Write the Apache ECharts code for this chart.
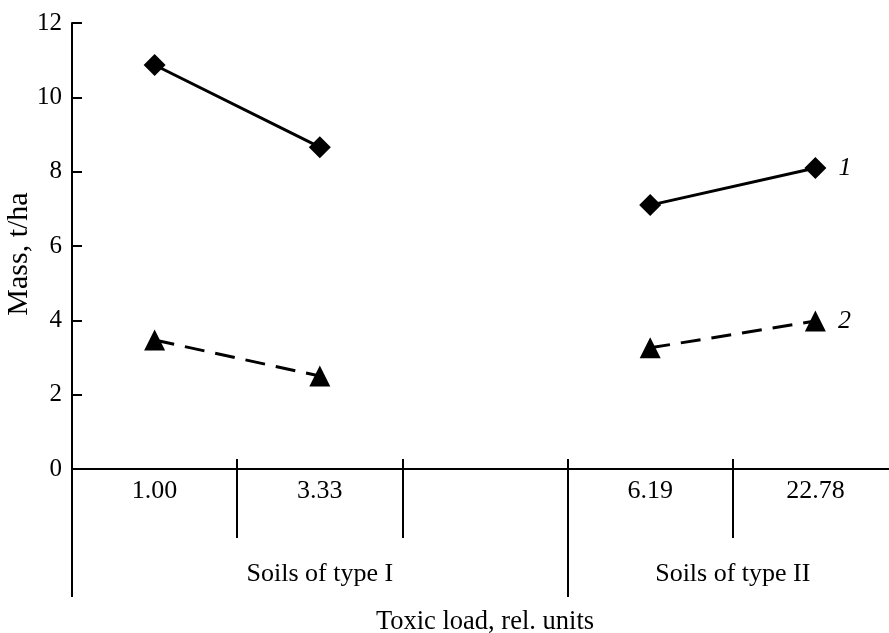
<!DOCTYPE html>
<html>
<head>
<meta charset="utf-8">
<script src="https://cdn.jsdelivr.net/npm/echarts@6/dist/echarts.min.js"></script>
<style>
html,body{margin:0;padding:0;background:#fff;}
#chart{width:889px;height:633px;}
</style>
</head>
<body>
<div id="chart"></div>
<script>
// ---- data ----
const categories = ['1.00', '3.33', '', '6.19', '22.78'];
const series1 = [10.87, 8.66, null, 7.10, 8.10];   // curve 1 (diamonds, solid)
const series2 = [3.47, 2.50, null, 3.26, 3.98];    // curve 2 (triangles, dashed)
const seriesNames = ['1', '2'];
const groupLabels = ['Soils of type I', 'Soils of type II'];
const groupSpans = [3, 2]; // number of category slots per group
const yTicks = [0, 2, 4, 6, 8, 10, 12];
const xTitle = 'Toxic load, rel. units';
const yTitle = 'Mass, t/ha';

// ---- derived group positions ----
const groupBounds = [0];
groupSpans.forEach(s => groupBounds.push(groupBounds[groupBounds.length - 1] + s));
const groupCenters = groupSpans.map((s, i) => groupBounds[i] + s / 2);

const FONT = "'Liberation Serif', 'Times New Roman', serif";
const FS = 26;

function lastLabel(arr, text) {
  const lastIdx = arr.length - 1;
  return arr.map((v, i) => i === lastIdx ? {
    value: v,
    label: {
      show: true, position: 'right', distance: 12, formatter: text,
      fontFamily: FONT, fontSize: FS, fontStyle: 'italic', color: '#000'
    }
  } : v);
}

const chart = echarts.init(document.getElementById('chart'), null, {renderer: 'canvas'});
chart.setOption({
  animation: false,
  backgroundColor: '#fff',
  grid: {left: 72, right: -9, top: 23, bottom: 164, containLabel: false, outerBoundsMode: 'none'},
  xAxis: [
    {
      type: 'category', data: categories, boundaryGap: true,
      axisLine: {show: true, lineStyle: {color: '#000', width: 2}},
      axisTick: {show: true, inside: true, length: 10, interval: 0, lineStyle: {color: '#000', width: 2}},
      axisLabel: {show: true, interval: 0, margin: 9, color: '#000', fontFamily: FONT, fontSize: FS},
      splitLine: {show: false}
    },
    {
      type: 'category', data: categories, boundaryGap: true, position: 'bottom',
      axisLine: {show: false},
      axisTick: {show: true, length: 69, interval: 0, lineStyle: {color: '#000', width: 2}},
      axisLabel: {show: false},
      splitLine: {show: false}
    },
    {
      type: 'value', min: 0, max: categories.length, position: 'bottom', offset: 69,
      axisLine: {show: false},
      axisTick: {show: true, length: 59, customValues: groupBounds.slice(0, -1), lineStyle: {color: '#000', width: 2}},
      axisLabel: {
        show: true, customValues: groupCenters, margin: 23, color: '#000', fontFamily: FONT, fontSize: FS,
        formatter: v => { const i = groupCenters.indexOf(v); return i >= 0 ? groupLabels[i] : ''; }
      },
      splitLine: {show: false},
      name: xTitle, nameLocation: 'middle', nameGap: 71, nameMoveOverlap: false,
      nameTextStyle: {color: '#000', fontFamily: FONT, fontSize: 26.5}
    }
  ],
  yAxis: {
    type: 'value', min: yTicks[0], max: yTicks[yTicks.length - 1], interval: yTicks[1] - yTicks[0],
    axisLine: {show: true, lineStyle: {color: '#000', width: 2}},
    axisTick: {show: true, inside: true, length: 10, lineStyle: {color: '#000', width: 2}},
    axisLabel: {margin: 10, color: '#000', fontFamily: FONT, fontSize: 25},
    splitLine: {show: false},
    name: yTitle, nameLocation: 'middle', nameGap: 38, nameMoveOverlap: false,
    nameTextStyle: {color: '#000', fontFamily: FONT, fontSize: 30, padding: [0, 16, 0, 0]}
  },
  series: [
    {
      name: seriesNames[0], type: 'line', xAxisIndex: 0, data: lastLabel(series1, seriesNames[0]),
      connectNulls: false, symbol: 'diamond', symbolSize: 22,
      itemStyle: {color: '#000'}, lineStyle: {color: '#000', width: 3, type: 'solid'}
    },
    {
      name: seriesNames[1], type: 'line', xAxisIndex: 0, data: lastLabel(series2, seriesNames[1]),
      connectNulls: false, symbol: 'triangle', symbolSize: 21,
      itemStyle: {color: '#000'}, lineStyle: {color: '#000', width: 3, type: [20, 11]}
    }
  ]
});
</script>
</body>
</html>
